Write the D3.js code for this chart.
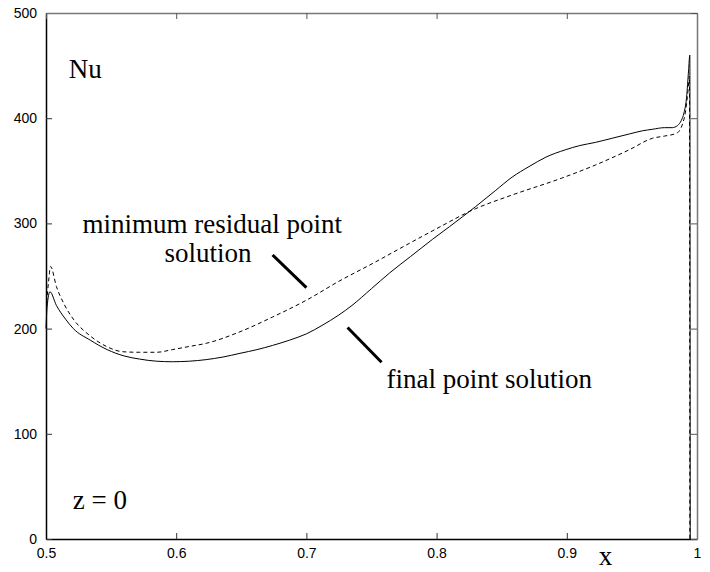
<!DOCTYPE html>
<html>
<head>
<meta charset="utf-8">
<script src="https://cdn.jsdelivr.net/npm/d3@7"></script>
<style>
  body { margin: 0; background: #fff; }
  svg { display: block; }
  .serif { font-family: 'Liberation Serif', 'Times New Roman', 'DejaVu Serif', serif; }
  .sans { font-family: 'Liberation Sans', Arial, sans-serif; }
</style>
</head>
<body>
<svg width="710" height="572"></svg>
<script>

// final point solution (solid)
const finalX = [0.5, 0.5008, 0.503, 0.508, 0.515, 0.521, 0.534, 0.547, 0.56, 0.572, 0.585, 0.597, 0.61, 0.623,
    0.636, 0.649, 0.662, 0.674, 0.687, 0.7, 0.712, 0.725, 0.735, 0.75, 0.764, 0.78, 0.797, 0.81, 0.83, 0.845,
    0.858, 0.871, 0.884, 0.899, 0.91, 0.922, 0.935, 0.948, 0.958, 0.966, 0.975, 0.981, 0.985, 0.988, 0.99,
    0.992, 0.9935, 0.9945, 0.9948];
const finalNu = [200, 220, 235, 222, 209, 200, 189, 180, 174, 171, 169, 168.5, 169, 170.5,
    173, 176.5, 180, 184, 189, 195, 203, 213, 222, 238, 253, 268.5, 285, 297, 316, 331,
    344, 354, 363, 370, 374, 377, 381, 385, 388, 389.5, 391, 391, 393, 398, 405,
    420, 445, 460, 0];

// minimum residual point solution (dashed)
const minresX = [0.5005, 0.502, 0.5035, 0.508, 0.514, 0.521, 0.534, 0.5465, 0.559, 0.572, 0.585, 0.597, 0.61,
    0.623, 0.649, 0.674, 0.7, 0.725, 0.751, 0.779, 0.797, 0.83, 0.858, 0.896, 0.922, 0.948, 0.966, 0.975,
    0.984, 0.987, 0.989, 0.991, 0.993, 0.9942, 0.9945];
const minresNu = [225, 245, 259, 240, 223, 209, 193, 183, 178, 177.5, 177.5, 180, 183,
    186, 197, 211, 227, 245, 262, 281, 293, 314, 327, 343, 355.5, 370, 381, 383,
    385.6, 389, 395, 405, 425, 440, 0];

const xTicks = [0.5, 0.6, 0.7, 0.8, 0.9, 1];
const yTicks = [0, 100, 200, 300, 400, 500];

// annotation pointers, in data units
const pointerMin = [[0.674, 270], [0.700, 239]];
const pointerFinal = [[0.7316, 201], [0.7577, 168]];

init();

function init() {
    var svg = d3.select('svg');
    var x = d3.scaleLinear().domain([0.5, 1]).range([46, 697]);
    var y = d3.scaleLinear().domain([0, 500]).range([539, 13]);

    // bottom axis, ticks pointing in
    var gx = svg.append('g').attr('transform', 'translate(0,' + y(0) + ')')
        .call(d3.axisBottom(x).tickValues(xTicks).tickFormat(d3.format('')).tickSizeInner(-6).tickSizeOuter(0).tickPadding(9));
    // left axis
    var gy = svg.append('g').attr('transform', 'translate(' + x(0.5) + ',0)')
        .call(d3.axisLeft(y).tickValues(yTicks).tickSizeInner(-6).tickSizeOuter(0).tickPadding(9));
    // top + right ticks, no labels
    var gt = svg.append('g').attr('transform', 'translate(0,' + y(500) + ')')
        .call(d3.axisTop(x).tickValues(xTicks).tickFormat('').tickSizeInner(-6).tickSizeOuter(0));
    var gr = svg.append('g').attr('transform', 'translate(' + x(1) + ',0)')
        .call(d3.axisRight(y).tickValues(yTicks).tickFormat('').tickSizeInner(-6).tickSizeOuter(0));

    [gx, gy].forEach(g => {
        g.attr('font-family', null).attr('font-size', null);
        g.select('.domain').attr('stroke', '#000').attr('stroke-width', 1.5);
        g.selectAll('.tick line').attr('stroke', '#333');
        g.selectAll('text').attr('class', 'sans').style('font-size', '14px').attr('fill', '#000');
    });
    [gt, gr].forEach(g => {
        g.select('.domain').attr('stroke', '#777').attr('stroke-width', 1.5);
        g.selectAll('.tick line').attr('stroke', '#555');
    });

    var lineGen = d3.line().curve(d3.curveMonotoneX).x(d => x(d[0])).y(d => y(d[1]));

    svg.append('path')
        .datum(finalX.map((v, i) => [v, finalNu[i]]))
        .attr('fill', 'none')
        .attr('stroke', '#000')
        .attr('stroke-width', 1)
        .attr('d', lineGen);

    svg.append('path')
        .datum(minresX.map((v, i) => [v, minresNu[i]]))
        .attr('fill', 'none')
        .attr('stroke', '#000')
        .attr('stroke-width', 1)
        .attr('stroke-dasharray', '4,3')
        .attr('d', lineGen);

    [pointerMin, pointerFinal].forEach(p => {
        svg.append('line')
            .attr('x1', x(p[0][0])).attr('y1', y(p[0][1]))
            .attr('x2', x(p[1][0])).attr('y2', y(p[1][1]))
            .attr('stroke', '#000').attr('stroke-width', 3);
    });

    function label(t, xv, yv, anchor) {
        svg.append('text')
            .attr('class', 'serif')
            .attr('x', x(xv)).attr('y', y(yv))
            .attr('text-anchor', anchor || 'start')
            .style('font-size', '27px')
            .attr('fill', '#000')
            .text(t);
    }

    label('Nu', 0.5175, 438);
    label('z = 0', 0.5205, 28.5);
    label('minimum residual point', 0.528, 291);
    label('solution', 0.591, 263);
    label('final point solution', 0.7615, 144);
    label('x', 0.9246, -24.5);
}
</script>
</body>
</html>
